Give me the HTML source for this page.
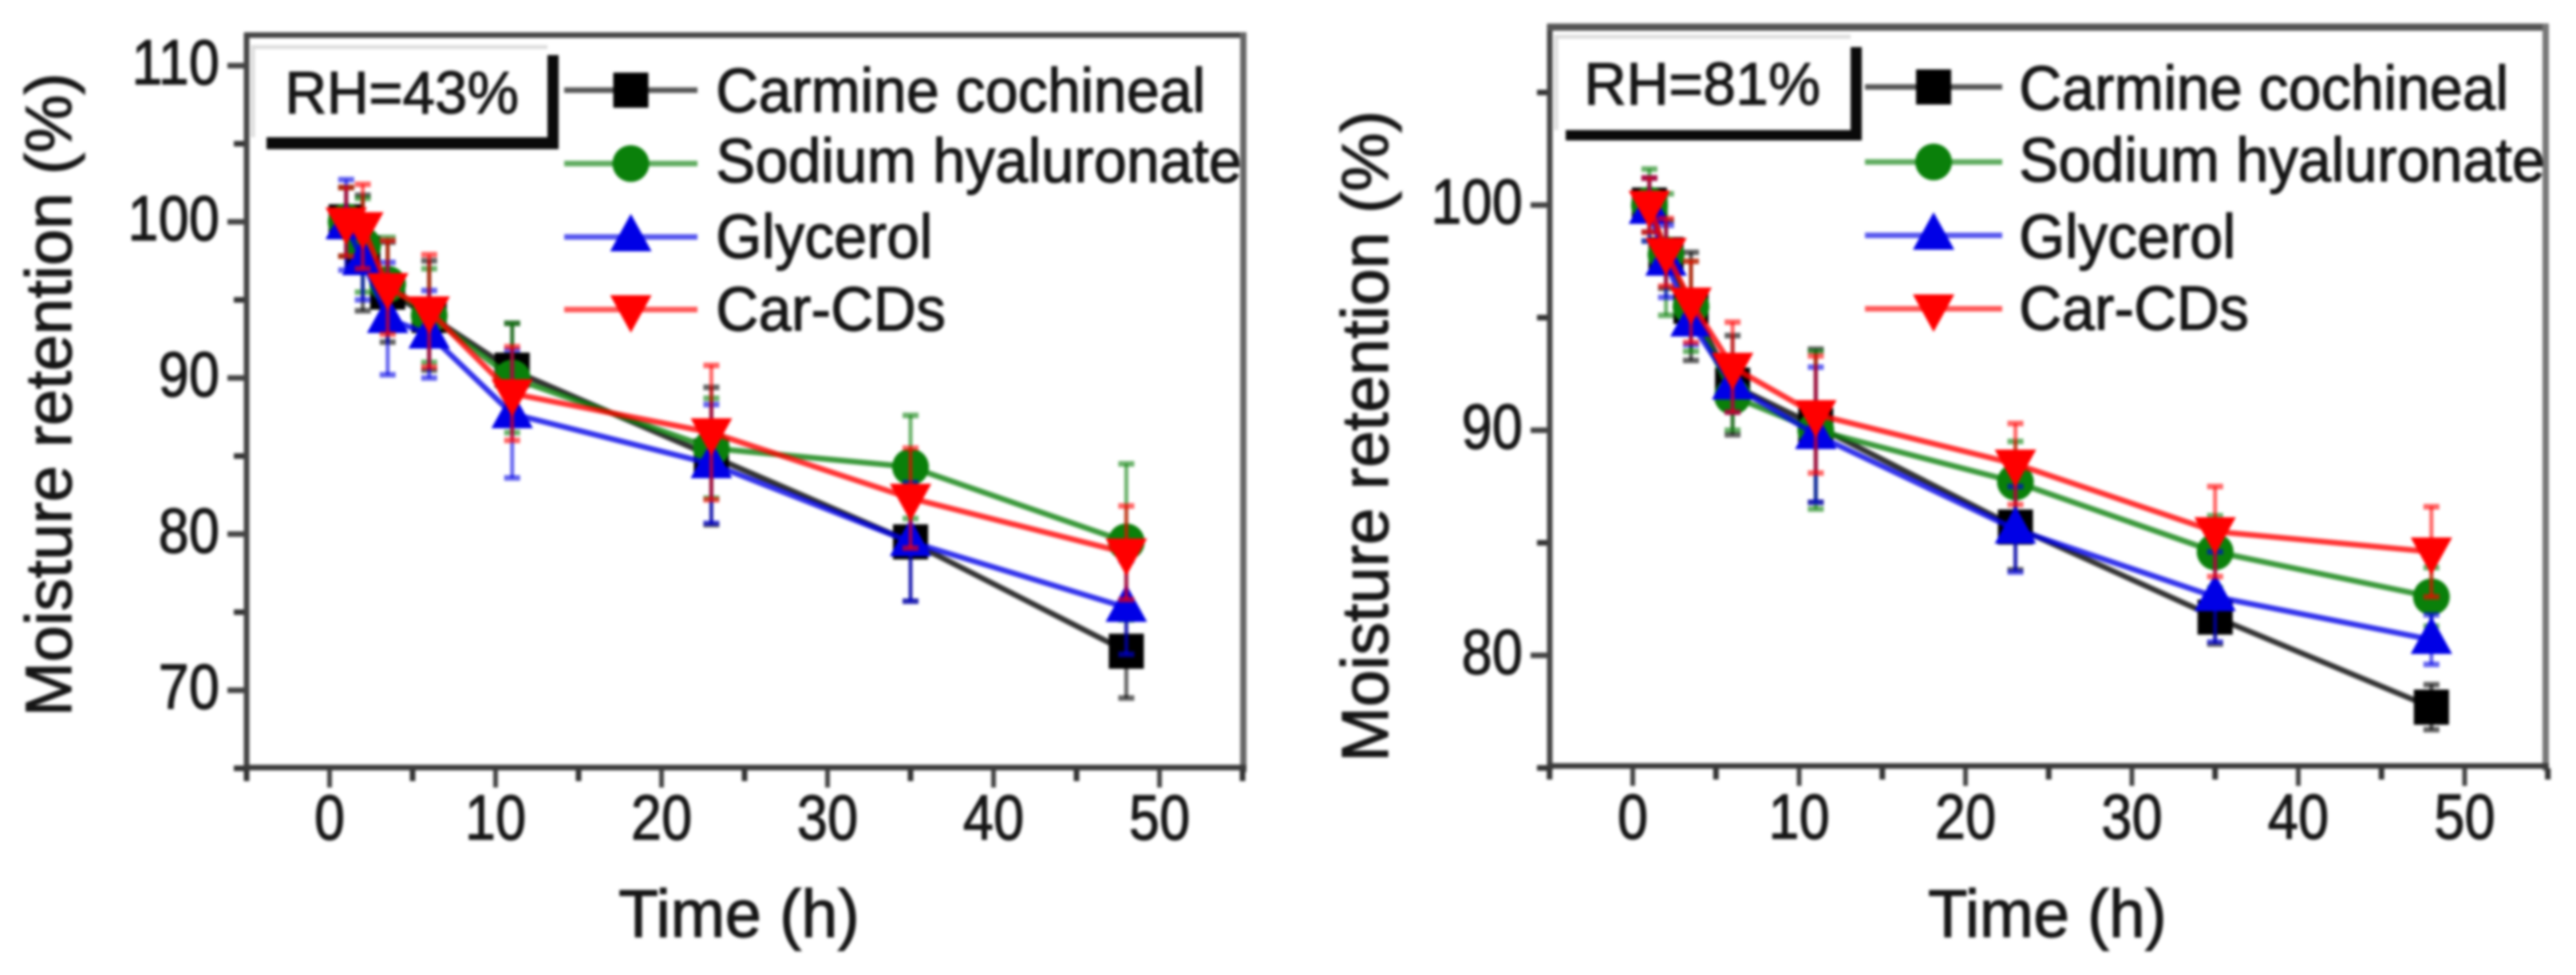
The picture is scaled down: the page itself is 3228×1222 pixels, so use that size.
<!DOCTYPE html>
<html lang="en">
<head>
<meta charset="utf-8">
<title>Moisture retention at RH 43% and RH 81%</title>
<style>
  html, body { margin: 0; padding: 0; background: #fff; }
  body { width: 3228px; height: 1222px; overflow: hidden; }
  svg { display: block; filter: blur(1.8px); }
  text { font-family: "Liberation Sans", Arial, sans-serif; fill: #161616; stroke: #161616; stroke-width: 1.3px; }
</style>
</head>
<body>
<svg id="figure" xmlns="http://www.w3.org/2000/svg" width="3228" height="1222" viewBox="0 0 3228 1222">
  <rect x="0" y="0" width="3228" height="1222" fill="#ffffff"/>

  <g id="panel-a">
    <line x1="309" y1="41" x2="309" y2="968" stroke="#444" stroke-width="7"/>
    <line x1="306" y1="44" x2="1562" y2="44" stroke="#444" stroke-width="7"/>
    <line x1="1558" y1="41" x2="1558" y2="968" stroke="#666" stroke-width="8"/>
    <line x1="306" y1="962" x2="1562" y2="962" stroke="#3a3a3a" stroke-width="7"/>
    <text transform="translate(89,898) rotate(-90)" font-size="82">Moisture retention (%)</text>
    <text transform="translate(775,1174) scale(0.976,1)" font-size="84">Time (h)</text>
    <rect x="334" y="69" width="366" height="118" fill="#0a0a0a"/>
    <rect x="316" y="57" width="370" height="115" fill="#ffffff"/>
    <path d="M317 172 V59 H686" fill="none" stroke="#dddddd" stroke-width="5"/>
    <text transform="translate(357,142) scale(0.97,1)" font-size="75">RH=43%</text>
  </g>

  <g id="panel-b">
    <line x1="1942" y1="30" x2="1942" y2="966" stroke="#444" stroke-width="7"/>
    <line x1="1939" y1="34" x2="3194" y2="34" stroke="#555" stroke-width="9"/>
    <line x1="3190" y1="30" x2="3190" y2="966" stroke="#777" stroke-width="8"/>
    <line x1="1939" y1="960" x2="3194" y2="960" stroke="#3a3a3a" stroke-width="7"/>
    <text transform="translate(1739,955) rotate(-90)" font-size="83">Moisture retention (%)</text>
    <text transform="translate(2416,1174) scale(0.966,1)" font-size="84">Time (h)</text>
    <rect x="1962" y="59" width="371" height="117" fill="#0a0a0a"/>
    <rect x="1949" y="44" width="370" height="119" fill="#ffffff"/>
    <path d="M1950 163 V46 H2319" fill="none" stroke="#dddddd" stroke-width="5"/>
    <text transform="translate(1985,131) scale(0.98,1)" font-size="75">RH=81%</text>
  </g>
</svg>

<script>
// Shared measurement times (h)
const timePoints = [1, 2, 3.5, 6, 11, 23, 35, 48];

// Tick values
const xTicksMajor = [0, 10, 20, 30, 40, 50];
const xTicksMinor = [-5, 5, 15, 25, 35, 45, 55];
const yTicksMajorA = [70, 80, 90, 100, 110];
const yTicksMinorA = [65, 75, 85, 95, 105];
const yTicksMajorB = [80, 90, 100];
const yTicksMinorB = [75, 85, 95, 105];

// Series names
const seriesNames = ['Carmine cochineal', 'Sodium hyaluronate', 'Glycerol', 'Car-CDs'];

// RH = 43 % values
const carmineA = [100, 98, 95.5, 94, 90.5, 85, 79.5, 72.5];
const sodiumA = [100, 98.5, 96, 94, 90, 85.5, 84.3, 79.5];
const glycerolA = [99.8, 97.5, 93.8, 92.8, 87.7, 84.5, 79.5, 75.3];
const carCdsA = [100, 99.7, 95.8, 94.3, 89, 86.5, 82.3, 78.8];

// RH = 43 % error bars
const carmineErrA = [2.2, 3.7, 3.2, 3.5, 3.0, 4.4, 3.8, 3.0];
const sodiumErrA = [2.2, 3.0, 3.0, 3.0, 3.5, 3.2, 3.3, 5.0];
const glycerolErrA = [2.9, 2.5, 3.6, 2.8, 4.1, 3.8, 3.8, 3.0];
const carCdsErrA = [2.2, 2.7, 3.0, 3.6, 3.0, 4.3, 3.2, 3.0];

// RH = 81 % values
const carmineB = [100, 97.8, 95.5, 92, 90.2, 85.7, 81.7, 77.7];
const sodiumB = [100, 97.8, 95.5, 91.5, 90, 87.7, 84.6, 82.6];
const glycerolB = [99.8, 97.5, 94.8, 92, 89.8, 85.6, 82.6, 80.7];
const carCdsB = [100, 97.9, 95.7, 92.8, 90.7, 88.5, 85.5, 84.6];

// RH = 81 % error bars
const carmineErrB = [1.2, 1.5, 2.4, 2.2, 3.4, 1.9, 1.2, 1.0];
const sodiumErrB = [1.6, 2.7, 2.0, 1.5, 3.5, 1.8, 1.6, 1.3];
const glycerolErrB = [1.4, 1.6, 1.0, 1.2, 3.0, 1.9, 2.0, 1.1];
const carCdsErrB = [1.2, 1.5, 1.8, 2.0, 2.6, 1.8, 2.0, 2.0];

const SVG_NS = 'http://www.w3.org/2000/svg';

function make(parent, tag, attrs) {
  const el = document.createElementNS(SVG_NS, tag);
  for (const key in attrs) el.setAttribute(key, attrs[key]);
  parent.appendChild(el);
  return el;
}

function drawMarker(parent, shape, cx, cy, color, name) {
  let el;
  if (shape === 'square') {
    el = make(parent, 'rect', { x: cx - 22, y: cy - 22, width: 44, height: 44, fill: color });
  } else if (shape === 'circle') {
    el = make(parent, 'circle', { cx: cx, cy: cy, r: 23, fill: color });
  } else if (shape === 'up') {
    el = make(parent, 'polygon', { points: [cx, cy - 29, cx + 26, cy + 18, cx - 26, cy + 18].join(','), fill: color });
  } else {
    el = make(parent, 'polygon', { points: [cx - 26, cy - 18, cx + 26, cy - 18, cx, cy + 29].join(','), fill: color });
  }
  
  
}

function drawPanel(p) {
  const root = document.getElementById(p.id);
  const xScale = function (v) { return p.x0 + v * p.xUnit; };
  const yScale = function (v) { return p.y100 + (100 - v) * p.yUnit; };

  xTicksMajor.forEach(function (v) {
    const tick = make(root, 'line', { x1: xScale(v), x2: xScale(v), y1: p.bottom, y2: p.bottom + 22, stroke: '#444', 'stroke-width': 6 });
    
    
    const label = make(root, 'text', { transform: 'translate(' + xScale(v) + ',' + p.xLabelY + ') scale(0.86,1)', 'font-size': 80, 'text-anchor': 'middle' });
    label.textContent = String(v);
    
    
  });
  xTicksMinor.forEach(function (v) {
    const tick = make(root, 'line', { x1: xScale(v), x2: xScale(v), y1: p.bottom, y2: p.bottom + 14, stroke: '#333', 'stroke-width': 7 });
    
    
  });
  p.yMajor.forEach(function (v) {
    const tick = make(root, 'line', { x1: p.left - 21, x2: p.left, y1: yScale(v), y2: yScale(v), stroke: '#444', 'stroke-width': 7 });
    
    
    const label = make(root, 'text', { transform: 'translate(' + p.yLabelX + ',' + (yScale(v) + 23) + ') scale(0.86,1)', 'font-size': 80, 'text-anchor': 'end' });
    label.textContent = String(v);
    
    
  });
  p.yMinor.forEach(function (v) {
    const tick = make(root, 'line', { x1: p.left - 13, x2: p.left, y1: yScale(v), y2: yScale(v), stroke: '#333', 'stroke-width': 7 });
    
    
  });

  // Series: error bars first, then line, then markers; later series overlay earlier
  p.series.forEach(function (s) {
    const group = make(root, 'g', {});
    
    

    timePoints.forEach(function (t, i) {
      const cx = xScale(t);
      const hi = yScale(s.values[i] + s.errors[i]);
      const lo = yScale(s.values[i] - s.errors[i]);
      const stem = make(group, 'line', { x1: cx, x2: cx, y1: hi, y2: lo, stroke: s.color, 'stroke-width': 5, opacity: 0.6 });
      
      
      const capTop = make(group, 'line', { x1: cx - 10, x2: cx + 10, y1: hi, y2: hi, stroke: s.color, 'stroke-width': 7, opacity: 0.6 });
      
      
      const capLow = make(group, 'line', { x1: cx - 10, x2: cx + 10, y1: lo, y2: lo, stroke: s.color, 'stroke-width': 7, opacity: 0.6 });
      
      
    });

    const pts = timePoints.map(function (t, i) { return xScale(t) + ',' + yScale(s.values[i]); }).join(' ');
    const line = make(group, 'polyline', { points: pts, fill: 'none', stroke: s.color, 'stroke-width': 7, opacity: 0.8 });
    
    

    timePoints.forEach(function (t, i) {
      drawMarker(group, s.shape, xScale(t), yScale(s.values[i]), s.color, 'data-point');
    });
  });

  // Legend
  p.series.forEach(function (s, i) {
    const entry = make(root, 'g', {});
    
    
    const rowY = p.legendRowY[i];
    const sample = make(entry, 'line', { x1: p.legendX1, x2: p.legendX2, y1: rowY, y2: rowY, stroke: s.color, 'stroke-width': 7, opacity: 0.65 });
    
    
    drawMarker(entry, s.shape, (p.legendX1 + p.legendX2) / 2, rowY, s.color, 'legend-marker');
    const label = make(entry, 'text', { transform: 'translate(' + p.legendTextX + ',' + p.legendTextY[i] + ') scale(0.95,1)', 'font-size': 78 });
    label.textContent = seriesNames[i];
    
    
  });
}

const GREEN = '#0a800a', BLUE = '#0000e6', RED = '#ff0000', BLACK = '#000000';

drawPanel({
  id: 'panel-a', x0: 413, xUnit: 20.8, y100: 278, yUnit: 19.57, left: 306, bottom: 965,
  xLabelY: 1052, yLabelX: 275,
  yMajor: yTicksMajorA, yMinor: yTicksMinorA,
  legendX1: 707, legendX2: 874, legendTextX: 897,
  legendRowY: [113, 205, 297, 388], legendTextY: [140, 228, 323, 414],
  series: [
    { key: 'carmine-cochineal', shape: 'square', color: BLACK, values: carmineA, errors: carmineErrA },
    { key: 'sodium-hyaluronate', shape: 'circle', color: GREEN, values: sodiumA, errors: sodiumErrA },
    { key: 'glycerol', shape: 'up', color: BLUE, values: glycerolA, errors: glycerolErrA },
    { key: 'car-cds', shape: 'down', color: RED, values: carCdsA, errors: carCdsErrA }
  ]
});

drawPanel({
  id: 'panel-b', x0: 2046, xUnit: 20.85, y100: 257, yUnit: 28.22, left: 1939, bottom: 963,
  xLabelY: 1051, yLabelX: 1908,
  yMajor: yTicksMajorB, yMinor: yTicksMinorB,
  legendX1: 2337, legendX2: 2509, legendTextX: 2530,
  legendRowY: [109, 203, 295, 387], legendTextY: [137, 227, 323, 413],
  series: [
    { key: 'carmine-cochineal', shape: 'square', color: BLACK, values: carmineB, errors: carmineErrB },
    { key: 'sodium-hyaluronate', shape: 'circle', color: GREEN, values: sodiumB, errors: sodiumErrB },
    { key: 'glycerol', shape: 'up', color: BLUE, values: glycerolB, errors: glycerolErrB },
    { key: 'car-cds', shape: 'down', color: RED, values: carCdsB, errors: carCdsErrB }
  ]
});
</script>
</body>
</html>
